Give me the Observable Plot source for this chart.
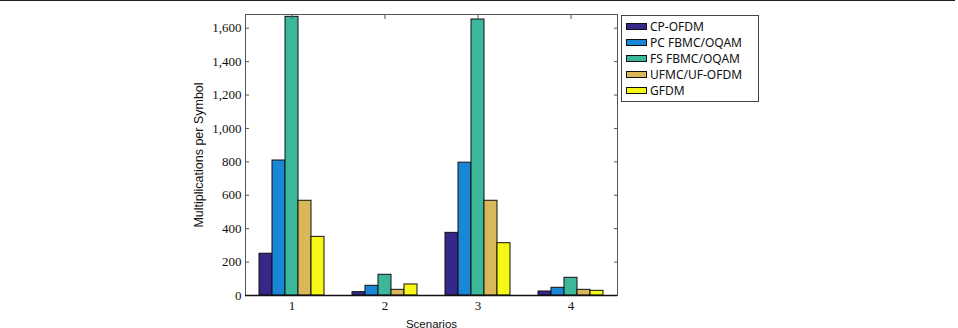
<!DOCTYPE html>
<html>
<head>
<meta charset="utf-8">
<script src="https://cdn.jsdelivr.net/npm/d3@7"></script>
<script src="https://cdn.jsdelivr.net/npm/@observablehq/plot@0.6"></script>
<style>
  html, body { margin: 0; padding: 0; background: #fff; }
  #wrap { position: relative; width: 958px; height: 328px; overflow: hidden; }
  #topline { position: absolute; left: 0; top: 0; width: 955px; height: 0; border-top: 1.5px solid #222; }
  #legend { position: absolute; left: 621px; top: 15px; width: 138px; height: 87px; box-sizing: border-box;
            border: 1px solid #444; background: #fff; font-family: "Noto Sans", sans-serif; font-size: 12px; color: #111; }
  .row { position: absolute; left: 4px; height: 16px; display: flex; align-items: center; }
  .sw { width: 21px; height: 7px; border: 1px solid #111; box-sizing: border-box; margin-right: 3px; }
  svg g[aria-label="y-axis tick label"] text, svg g[aria-label="fx-axis tick label"] text { font-family: "Liberation Serif", serif; font-size: 13px; }
  svg g[aria-label="y-axis label"] text { font-family: "Liberation Sans", sans-serif; font-size: 12.5px; }
  svg g[aria-label="fx-axis label"] text { font-family: "Liberation Sans", sans-serif; font-size: 11.5px; }
</style>
</head>
<body>
<div id="wrap"><div id="topline"></div></div>
<script>
const scenarios = [1, 2, 3, 4];
const seriesNames = ["CP-OFDM", "PC FBMC/OQAM", "FS FBMC/OQAM", "UFMC/UF-OFDM", "GFDM"];
const seriesColors = ["#35288a", "#1a86d6", "#3bb89c", "#d9b85a", "#f7f718"];
const cpOfdm = [250, 20, 375, 24];
const pcFbmc = [808, 58, 795, 46];
const fsFbmc = [1668, 124, 1652, 106];
const ufmc = [567, 34, 567, 34];
const gfdm = [351, 66, 313, 28];
const yTicks = [0, 200, 400, 600, 800, 1000, 1200, 1400, 1600];

const seriesValues = [cpOfdm, pcFbmc, fsFbmc, ufmc, gfdm];
const rows = [];
scenarios.forEach((s, i) => {
  seriesNames.forEach((name, j) => rows.push({scenario: s, series: name, value: seriesValues[j][i]}));
});

const chart = Plot.plot({
  width: 958,
  height: 328,
  marginLeft: 243,
  marginRight: 340,
  marginTop: 14,
  marginBottom: 33,
  style: {fontFamily: "Liberation Serif, serif", fontSize: "13px", color: "#111", background: "transparent"},
  fx: {domain: scenarios, padding: 0, label: null},
  x: {domain: seriesNames, paddingInner: 0, paddingOuter: 1.05, axis: null},
  y: {domain: [0, 1682], label: null},
  color: {domain: seriesNames, range: seriesColors},
  marks: [
    Plot.barY(rows, {fx: "scenario", x: "series", y: "value", fill: "series", stroke: "#111", strokeWidth: 1}),
    Plot.axisY(yTicks, {anchor: "left", tickSize: 0, tickPadding: 4, tickFormat: d3.format(","), label: null, fontFamily: "Liberation Serif", fontSize: 13}),
    Plot.axisY(yTicks, {anchor: "left", tickSize: -4, text: null, label: null, stroke: "#555"}),
    Plot.axisY(yTicks, {anchor: "right", tickSize: -4, text: null, label: null, stroke: "#555"}),
    Plot.axisY({anchor: "left", ticks: [], tickSize: 0, label: "Multiplications per Symbol", labelAnchor: "center", labelArrow: "none", labelOffset: 51}),
    Plot.axisFx({anchor: "bottom", tickSize: 0, tickPadding: 5, fontFamily: "Liberation Serif", fontSize: 13, label: "Scenarios", labelAnchor: "center", labelArrow: "none", labelOffset: 32}),
    Plot.axisFx({anchor: "top", tickSize: -4, text: null, label: null, stroke: "#555"}),
    Plot.frame({facet: "super", stroke: "#555", strokeWidth: 1}),
    Plot.ruleY([0], {stroke: "#111", strokeWidth: 1.5})
  ]
});
const wrap = document.getElementById("wrap");
chart.style.position = "absolute";
chart.style.left = "0px";
chart.style.top = "0px";
wrap.appendChild(chart);

const legend = document.createElement("div");
legend.id = "legend";
seriesNames.forEach((name, j) => {
  const row = document.createElement("div");
  row.className = "row";
  row.style.top = (2 + j * 16.2) + "px";
  const sw = document.createElement("div");
  sw.className = "sw";
  sw.style.background = seriesColors[j];
  const t = document.createElement("span");
  t.textContent = name;
  row.appendChild(sw);
  row.appendChild(t);
  legend.appendChild(row);
});
wrap.appendChild(legend);
</script>
</body>
</html>
